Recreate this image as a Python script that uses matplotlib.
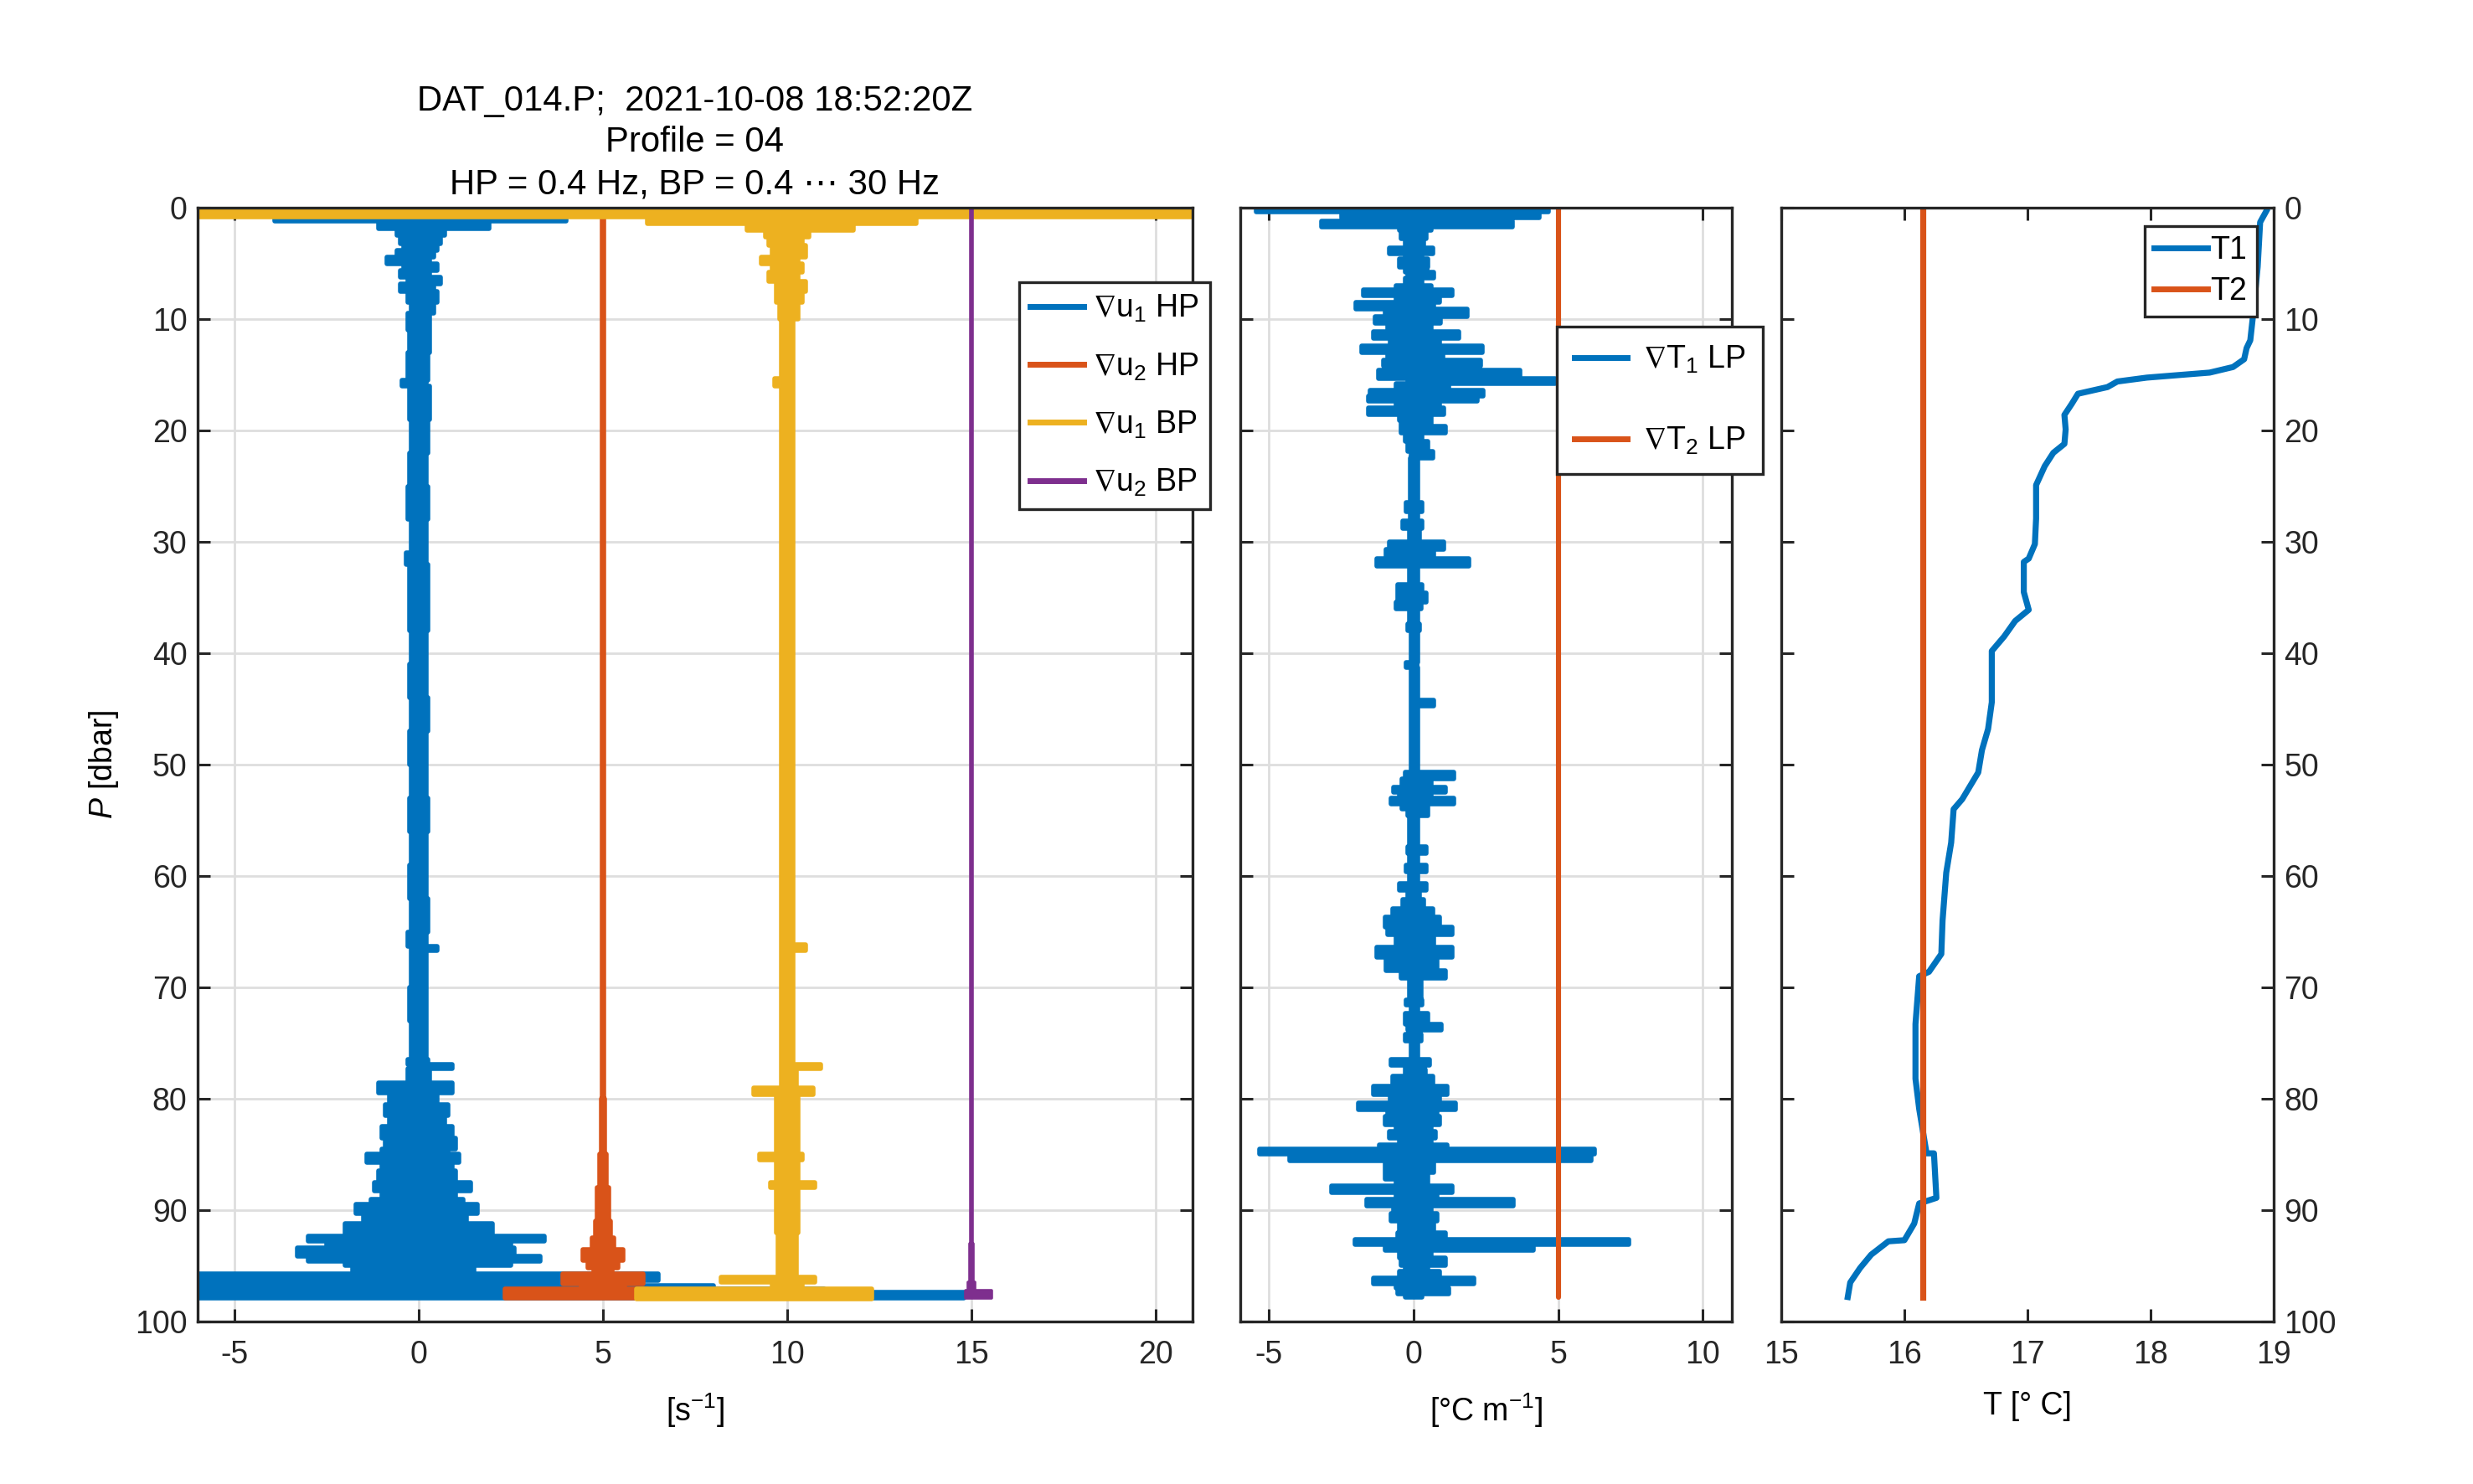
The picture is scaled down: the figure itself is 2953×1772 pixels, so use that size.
import matplotlib
matplotlib.use("Agg")
import matplotlib.pyplot as plt
from matplotlib.lines import Line2D

# -----------------------------
# Data
# -----------------------------
# shear probes, panel 1: envelope (lo / hi) of each noisy trace vs pressure
P_U1HP = [0.0, 0.5, 1.2, 1.9, 2.5, 3.2, 3.8, 4.4, 5.0, 5.6,
          6.2, 6.8, 7.5, 8.5, 9.5, 11.0, 13.0, 15.5, 16.0, 16.5,
          19.0, 22.0, 25.0, 28.0, 31.0, 32.0, 35.0, 38.0, 41.0, 44.0,
          47.0, 50.0, 53.0, 56.0, 59.0, 62.0, 65.0, 66.3, 66.7, 70.0,
          73.0, 76.5, 76.9, 77.3, 78.6, 79.5, 80.5, 81.5, 82.5, 83.5,
          84.5, 85.0, 85.7, 86.5, 87.5, 88.3, 89.0, 89.5, 90.3, 91.2,
          92.3, 92.8, 93.4, 94.1, 94.6, 95.0, 95.7, 96.3, 96.8, 97.1,
          97.4, 97.9]
U1HP_LO = [-6.5, -3.9, -1.1, -0.6, -0.5, -0.4, -0.6, -0.86, -0.4, -0.5,
           -0.3, -0.5, -0.3, -0.2, -0.3, -0.25, -0.3, -0.45, -0.25, -0.25,
           -0.2, -0.25, -0.3, -0.2, -0.35, -0.25, -0.25, -0.2, -0.25, -0.2,
           -0.25, -0.2, -0.25, -0.2, -0.25, -0.2, -0.3, -0.2, -0.2, -0.25,
           -0.2, -0.3, -0.2, -0.3, -1.1, -0.8, -0.9, -0.8, -1.0, -0.9,
           -1.0, -1.4, -1.0, -1.1, -1.2, -1.0, -1.3, -1.7, -1.5, -2.0,
           -3.0, -2.5, -3.3, -3.0, -2.0, -1.8, -6.5, -6.5, -6.5, -6.5,
           -6.5, -6.5]
U1HP_HI = [1.2, 4.0, 1.9, 0.7, 0.6, 0.5, 0.4, 0.3, 0.5, 0.3,
           0.6, 0.4, 0.5, 0.4, 0.3, 0.3, 0.25, 0.2, 0.3, 0.3,
           0.25, 0.2, 0.25, 0.2, 0.2, 0.25, 0.25, 0.2, 0.2, 0.25,
           0.2, 0.2, 0.25, 0.2, 0.2, 0.25, 0.2, 0.5, 0.2, 0.2,
           0.2, 0.25, 0.9, 0.3, 0.9, 0.5, 0.8, 0.7, 0.9, 1.0,
           0.8, 1.1, 0.9, 1.0, 1.4, 1.0, 1.2, 1.6, 1.3, 2.0,
           3.4, 2.5, 2.6, 3.3, 2.5, 1.5, 6.5, 4.5, 8.0, 11.0,
           14.8, 14.8]

P_U2HP = [0.0, 80.0, 85.0, 88.0, 91.0, 92.5, 93.5, 94.5, 95.2, 95.7, 96.6, 97.1, 97.9]
U2HP_LO = [4.98, 4.95, 4.9, 4.85, 4.8, 4.7, 4.45, 4.6, 4.75, 3.9, 4.4, 2.35, 2.35]
U2HP_HI = [5.02, 5.05, 5.1, 5.15, 5.2, 5.3, 5.55, 5.4, 5.25, 6.1, 5.6, 6.2, 6.2]

P_U1BP = [0.0, 0.8, 1.4, 2.0, 2.6, 3.4, 4.4, 5.0, 5.8, 6.6,
          7.5, 8.5, 10.0, 15.3, 16.0, 30.0, 45.0, 60.0, 66.2, 66.7,
          76.9, 77.3, 79.0, 79.6, 85.0, 85.5, 87.5, 88.0, 92.0, 96.0,
          96.5, 97.1, 98.0]
U1BP_LO = [-6.5, 6.2, 8.9, 9.4, 9.5, 9.6, 9.3, 9.6, 9.5, 9.7,
           9.7, 9.8, 9.85, 9.65, 9.85, 9.85, 9.85, 9.85, 9.85, 9.85,
           9.85, 9.85, 9.1, 9.7, 9.25, 9.7, 9.55, 9.7, 9.75, 8.2,
           9.6, 5.9, 5.9]
U1BP_HI = [21.5, 13.5, 11.8, 10.6, 10.4, 10.5, 10.3, 10.4, 10.3, 10.5,
           10.4, 10.3, 10.15, 10.15, 10.15, 10.15, 10.15, 10.15, 10.5, 10.15,
           10.9, 10.25, 10.7, 10.3, 10.4, 10.3, 10.75, 10.3, 10.25, 10.75,
           10.4, 12.3, 12.3]

P_U2BP = [0.0, 93.0, 96.5, 97.2, 97.9]
U2BP_LO = [14.98, 14.95, 14.9, 14.85, 14.85]
U2BP_HI = [15.02, 15.05, 15.1, 15.55, 15.55]

# temperature gradient, panel 2
P_T1G = [0.0, 0.4, 0.9, 1.2, 1.7, 2.0, 2.8, 3.6, 4.1, 4.6,
         5.3, 5.8, 6.3, 7.0, 7.4, 7.9, 8.5, 9.1, 9.8, 10.4,
         11.1, 11.7, 12.4, 13.0, 13.7, 14.2, 14.6, 15.3, 15.8, 16.4,
         16.9, 17.4, 18.0, 18.6, 19.1, 19.6, 20.2, 21.0, 21.9, 22.5,
         26.5, 27.3, 28.1, 28.8, 30.0, 30.7, 31.5, 32.2, 33.8, 34.6,
         35.4, 36.0, 37.4, 38.0, 40.8, 41.3, 44.2, 44.7, 50.7, 51.3,
         52.0, 52.5, 53.0, 53.5, 54.0, 54.6, 57.4, 58.0, 59.0, 59.6,
         60.7, 61.3, 62.1, 62.9, 63.7, 64.6, 65.3, 66.4, 67.3, 68.5,
         69.2, 71.1, 71.6, 72.3, 73.3, 73.8, 74.2, 74.8, 76.5, 77.0,
         77.4, 78.0, 78.9, 79.6, 80.4, 81.0, 81.6, 82.3, 82.9, 83.5,
         84.1, 84.5, 85.0, 85.6, 86.6, 87.2, 87.8, 88.4, 89.0, 89.6,
         90.3, 91.0, 92.0, 92.6, 93.1, 93.6, 94.3, 95.0, 95.5, 96.1,
         96.6, 97.0, 97.5, 97.8]
T1G_LO = [-5.45, -2.5, -0.8, -3.2, -0.5, -0.43, -0.3, -0.83, -0.3, -0.5,
          -0.3, -0.2, -0.3, -0.6, -1.75, -0.6, -2.0, -1.0, -1.35, -0.9,
          -1.4, -0.8, -1.8, -0.9, -1.06, -0.8, -1.23, -0.2, -0.6, -1.52,
          -1.57, -0.6, -1.57, -0.5, -0.43, -0.45, -0.3, -0.2, -0.1, -0.12,
          -0.26, -0.12, -0.38, -0.15, -0.83, -0.95, -1.29, -0.15, -0.55, -0.55,
          -0.6, -0.15, -0.2, -0.1, -0.26, -0.1, -0.1, -0.1, -0.3, -0.4,
          -0.7, -0.5, -0.78, -0.4, -0.2, -0.15, -0.2, -0.15, -0.25, -0.15,
          -0.5, -0.2, -0.38, -0.72, -1.0, -0.9, -0.6, -1.29, -0.95, -0.43,
          -0.15, -0.25, -0.1, -0.3, -0.2, -0.15, -0.3, -0.1, -0.78, -0.3,
          -0.3, -0.72, -1.4, -0.8, -1.92, -0.9, -1.0, -0.6, -0.83, -0.5,
          -1.18, -5.34, -4.3, -1.0, -1.0, -0.6, -2.83, -0.6, -1.63, -0.7,
          -0.78, -0.5, -0.55, -2.03, -1.0, -0.5, -0.45, -0.3, -0.5, -1.4,
          -0.6, -0.55, -0.3, -0.3]
T1G_HI = [4.65, 4.35, 1.2, 3.4, 0.6, 0.42, 0.35, 0.65, 0.3, 0.5,
          0.45, 0.7, 0.3, 0.6, 1.33, 0.9, 0.7, 1.85, 0.93, 0.6,
          1.56, 0.9, 2.36, 1.0, 2.3, 1.4, 3.67, 4.9, 1.2, 2.4,
          2.2, 0.9, 1.05, 0.6, 0.6, 1.1, 0.3, 0.5, 0.65, 0.14,
          0.3, 0.14, 0.3, 0.2, 1.05, 0.7, 1.9, 0.15, 0.3, 0.42,
          0.25, 0.15, 0.2, 0.15, 0.1, 0.15, 0.7, 0.15, 1.4, 0.6,
          1.1, 0.6, 1.4, 0.5, 0.5, 0.15, 0.42, 0.15, 0.42, 0.15,
          0.42, 0.2, 0.35, 0.65, 0.88, 1.34, 0.7, 1.34, 0.82, 1.1,
          0.25, 0.3, 0.15, 0.5, 0.94, 0.2, 0.25, 0.15, 0.54, 0.3,
          0.4, 0.65, 1.16, 0.9, 1.45, 0.8, 0.9, 0.6, 0.76, 0.6,
          1.16, 6.24, 6.13, 0.7, 0.5, 0.5, 1.34, 0.8, 3.45, 0.6,
          0.82, 0.7, 1.1, 7.44, 4.13, 0.6, 1.1, 0.5, 0.9, 2.08,
          0.9, 1.22, 0.3, 0.3]
P_T2G = [0.0, 97.8]
T2G = [5.0, 5.0]

# temperature, panel 3
P_T1 = [0.3, 1.3, 5.3, 9.9, 11.9, 12.6, 13.6, 14.3, 14.8, 15.25,
        15.6, 16.1, 16.7, 17.6, 18.6, 19.9, 21.2, 22.0, 23.2, 24.9,
        27.9, 30.2, 31.5, 31.8, 34.5, 36.1, 37.1, 38.5, 39.8, 44.4,
        46.8, 48.7, 50.7, 53.1, 54.0, 57.0, 59.7, 64.0, 67.0, 68.6,
        69.0, 73.3, 78.2, 80.9, 84.9, 84.9, 88.9, 89.4, 91.2, 92.7,
        92.8, 94.0, 95.2, 96.5, 97.8]
T1 = [18.94, 18.89, 18.87, 18.83, 18.81, 18.78, 18.76, 18.67, 18.48, 17.97,
      17.73, 17.65, 17.41, 17.36, 17.30, 17.31, 17.30, 17.21, 17.14, 17.07,
      17.07, 17.06, 17.01, 16.97, 16.97, 17.01, 16.90, 16.81, 16.71, 16.71,
      16.68, 16.63, 16.60, 16.47, 16.40, 16.38, 16.34, 16.31, 16.30, 16.20,
      16.12, 16.09, 16.09, 16.12, 16.18, 16.24, 16.26, 16.12, 16.08, 16.00,
      15.87, 15.73, 15.64, 15.56, 15.54]
P_T2 = [0.0, 97.8]
T2 = [16.15, 16.15]

BLUE, ORANGE, YELLOW, PURPLE = "#0072BD", "#D95319", "#EDB120", "#7E2F8E"
DARK = "#262626"

plt.rcParams["font.family"] = ["Liberation Sans", "DejaVu Sans"]
plt.rcParams["font.size"] = 13.5
plt.rcParams["mathtext.fontset"] = "custom"
plt.rcParams["mathtext.rm"] = "Liberation Sans"
plt.rcParams["mathtext.it"] = "Liberation Sans:italic"
plt.rcParams["mathtext.fallback"] = "stixsans"
plt.rcParams["axes.unicode_minus"] = False


def trace(ax, p, lo, hi, color, lw=2.0):
    # noisy profile drawn as its step envelope with a thick rounded edge
    ax.fill_betweenx(p, lo, hi, step="post", facecolor=color, edgecolor=color,
                     linewidth=lw, joinstyle="round")


def style(ax, xlim, xticks, grid=True):
    ax.set_xlim(xlim)
    ax.set_ylim(100, 0)
    ax.set_xticks(xticks)
    ax.set_yticks(range(0, 101, 10))
    ax.tick_params(direction="in", length=5.5, width=1.1, top=True, right=True,
                   color=DARK, labelcolor=DARK)
    ax.tick_params(axis="x", pad=8)
    ax.tick_params(axis="y", pad=4.5)
    for s in ax.spines.values():
        s.set_linewidth(1.2)
        s.set_color(DARK)
    if grid:
        ax.grid(True, color="#dedede", lw=1.0)
        ax.set_axisbelow(True)


def legend(ax, handles, labels, anchor, **kw):
    leg = ax.legend(handles, labels, loc="upper left", bbox_to_anchor=anchor,
                    bbox_transform=fig.transFigure, fancybox=False, framealpha=1,
                    edgecolor=DARK, borderaxespad=0, **kw)
    leg.get_frame().set_linewidth(1.2)
    return leg


fig = plt.figure(figsize=(14.765, 8.86), dpi=200)
ax1 = fig.add_axes([0.0799, 0.1095, 0.4023, 0.7505])
ax2 = fig.add_axes([0.5015, 0.1095, 0.1988, 0.7505])
ax3 = fig.add_axes([0.7203, 0.1095, 0.1991, 0.7505])

# -----------------------------
# Panel 1: shear
# -----------------------------
trace(ax1, P_U1HP, U1HP_LO, U1HP_HI, BLUE)
trace(ax1, P_U2HP, U2HP_LO, U2HP_HI, ORANGE)
trace(ax1, P_U1BP, U1BP_LO, U1BP_HI, YELLOW)
trace(ax1, P_U2BP, U2BP_LO, U2BP_HI, PURPLE, lw=1.3)
style(ax1, (-6, 21), [-5, 0, 5, 10, 15, 20])
ax1.set_xlabel("[s$^{-1}$]", labelpad=9)
ax1.set_ylabel("$P$ [dbar]", labelpad=6)
ax1.set_title("DAT_014.P;  2021-10-08 18:52:20Z\nProfile = 04\n"
              "HP = 0.4 Hz, BP = 0.4 \u22ef 30 Hz", fontsize=15.1,
              linespacing=1.32, pad=6)
h1 = [Line2D([], [], color=c, lw=2.5) for c in (BLUE, ORANGE, YELLOW, PURPLE)]
legend(ax1, h1, [r"$\nabla$u$_1$ HP", r"$\nabla$u$_2$ HP",
                 r"$\nabla$u$_1$ BP", r"$\nabla$u$_2$ BP"],
       (0.4121, 0.8098), handlelength=1.7, handletextpad=0.3, labelspacing=0.85,
       borderpad=0.35)

# -----------------------------
# Panel 2: temperature gradient
# -----------------------------
trace(ax2, P_T1G, T1G_LO, T1G_HI, BLUE)
ax2.plot(T2G, P_T2G, color=ORANGE, lw=2.2, solid_capstyle="round")
style(ax2, (-6, 11), [-5, 0, 5, 10])
ax2.tick_params(labelleft=False)
ax2.set_xlabel("[\u00b0C m$^{-1}$]", labelpad=9)
h2 = [Line2D([], [], color=c, lw=2.5) for c in (BLUE, ORANGE)]
legend(ax2, h2, [r"$\nabla$T$_1$ LP", r"$\nabla$T$_2$ LP"], (0.6295, 0.7799),
       handlelength=1.7, handletextpad=0.5, labelspacing=1.6, borderpad=0.55)

# -----------------------------
# Panel 3: temperature
# -----------------------------
ax3.plot(T1, P_T1, color=BLUE, lw=2.6)
ax3.plot(T2, P_T2, color=ORANGE, lw=2.6)
style(ax3, (15, 19), [15, 16, 17, 18, 19], grid=False)
ax3.tick_params(labelleft=False, labelright=True)
ax3.set_xlabel("T [\u00b0 C]", labelpad=9)
h3 = [Line2D([], [], color=c, lw=2.5) for c in (BLUE, ORANGE)]
legend(ax3, h3, ["T1", "T2"], (0.8672, 0.8476),
       handlelength=1.7, handletextpad=0.1, labelspacing=0.35, borderpad=0.3)

fig.savefig("out.png", dpi=200)
